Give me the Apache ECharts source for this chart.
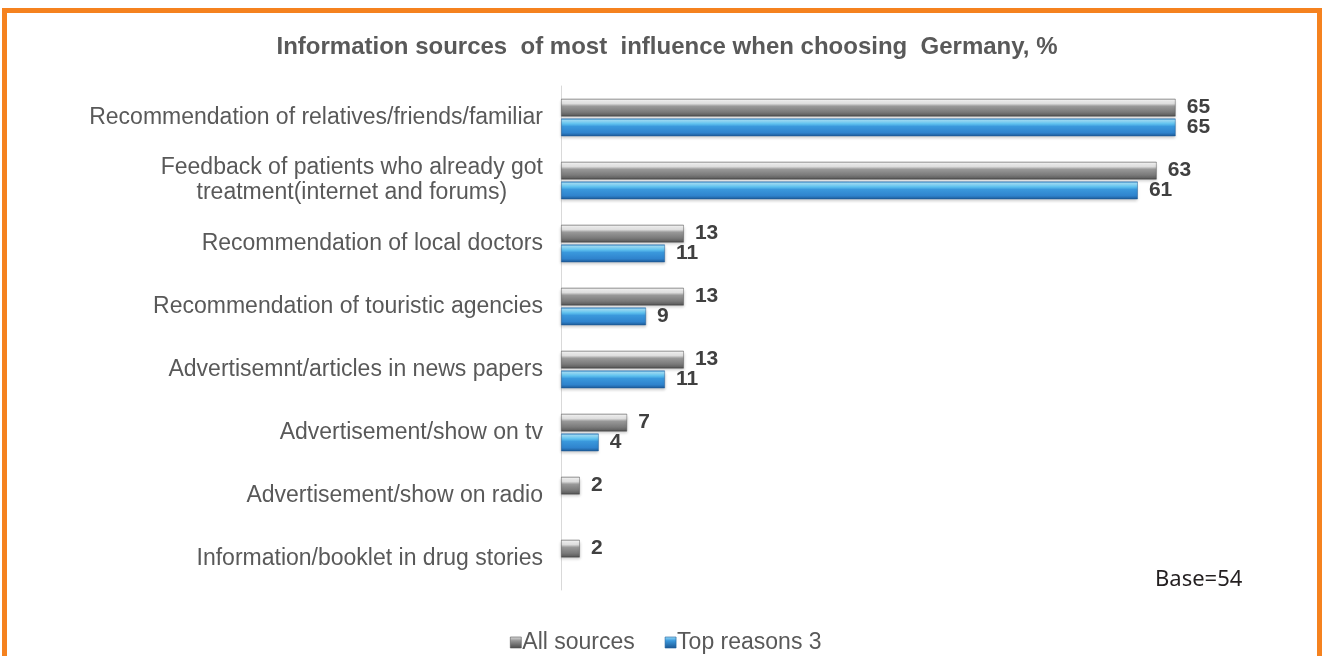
<!DOCTYPE html>
<html>
<head>
<meta charset="utf-8">
<script src="https://cdn.jsdelivr.net/npm/echarts@6/dist/echarts.min.js"></script>
<style>
  html, body { margin: 0; padding: 0; background: #ffffff; }
  #frame {
    position: absolute; left: 2px; top: 8px; width: 1310px; height: 700px;
    border: 5px solid #F5821F; background: #ffffff;
  }
  #chart { position: absolute; left: 0; top: 0; width: 1326px; height: 656px; }
</style>
</head>
<body>
<div id="frame"></div>
<div id="chart"></div>
<script>
// Survey answers (percent of respondents)
const categories = [
  'Recommendation of relatives/friends/familiar',
  'Feedback of patients who already got\ntreatment(internet and forums)',
  'Recommendation of local doctors',
  'Recommendation of touristic agencies',
  'Advertisemnt/articles in news papers',
  'Advertisement/show on tv',
  'Advertisement/show on radio',
  'Information/booklet in drug stories'
];
const allSources = [65, 63, 13, 13, 13, 7, 2, 2];
const topReasons = [65, 61, 11, 9, 11, 4, 0, 0];
const seriesNames = ['All sources', 'Top reasons 3'];
const titleText = 'Information sources  of most  influence when choosing  Germany, %';
const baseNote = 'Base=54';

// Bevelled fills: highlight near the top, darker edge at the bottom
const grayFill = new echarts.graphic.LinearGradient(0, 0, 0, 1, [
  { offset: 0, color: '#a8a8a8' },
  { offset: 0.1, color: '#f2f2f2' },
  { offset: 0.28, color: '#dedede' },
  { offset: 0.42, color: '#999999' },
  { offset: 0.75, color: '#7a7a7a' },
  { offset: 0.9, color: '#636363' },
  { offset: 1, color: '#424242' }
]);
const blueFill = new echarts.graphic.LinearGradient(0, 0, 0, 1, [
  { offset: 0, color: '#3f8fcf' },
  { offset: 0.12, color: '#9ddff9' },
  { offset: 0.3, color: '#5fc2ef' },
  { offset: 0.45, color: '#3a98dc' },
  { offset: 0.8, color: '#2f83cd' },
  { offset: 1, color: '#1b5692' }
]);
const legendGray = new echarts.graphic.LinearGradient(0, 0, 0, 1, [
  { offset: 0, color: '#e0e0e0' },
  { offset: 0.35, color: '#959595' },
  { offset: 1, color: '#4a4a4a' }
]);
const legendBlue = new echarts.graphic.LinearGradient(0, 0, 0, 1, [
  { offset: 0, color: '#9ddff9' },
  { offset: 0.35, color: '#3a98dc' },
  { offset: 1, color: '#1b5692' }
]);

const labelStyle = {
  show: true,
  position: 'right',
  distance: 11,
  color: '#404040',
  fontFamily: 'Liberation Sans, Arial, sans-serif',
  fontWeight: 'bold',
  fontSize: 21,
  formatter: p => (p.value > 0 ? String(p.value) : '')
};

const barShadow = {
  shadowColor: 'rgba(0,0,0,0.22)',
  shadowBlur: 3,
  shadowOffsetY: 2
};

// Zero-length bars get no outline or shadow so nothing shows at the axis
const barData = values => values.map(v =>
  v === 0 ? { value: v, itemStyle: { borderWidth: 0, shadowBlur: 0, shadowOffsetY: 0 } } : v
);

const chart = echarts.init(document.getElementById('chart'), null, { renderer: 'canvas' });
chart.setOption({
  animation: false,
  backgroundColor: 'transparent',
  title: {
    text: titleText,
    left: 662,
    textAlign: 'center',
    top: 30,
    textStyle: {
      color: '#595959',
      fontFamily: 'Liberation Sans, Arial, sans-serif',
      fontWeight: 'bold',
      fontSize: 24
    }
  },
  legend: {
    data: [
      { name: seriesNames[0], itemStyle: { color: legendGray, borderColor: '#555', borderWidth: 0.6 } },
      { name: seriesNames[1], itemStyle: { color: legendBlue, borderColor: '#1f5f9c', borderWidth: 0.6 } }
    ],
    left: 505,
    top: 626,
    itemWidth: 11,
    itemHeight: 11,
    itemGap: 30,
    icon: 'rect',
    textStyle: {
      color: '#595959',
      fontFamily: 'Liberation Sans, Arial, sans-serif',
      fontSize: 23,
      padding: [0, 0, 0, -4]
    }
  },
  grid: { left: 561, top: 86, width: 662, height: 504, containLabel: false },
  xAxis: {
    type: 'value',
    min: 0,
    max: 70,
    show: false,
    splitLine: { show: false }
  },
  yAxis: {
    type: 'category',
    data: categories,
    inverse: true,
    axisTick: { show: false },
    axisLine: { show: true, lineStyle: { color: '#d9d9d9', width: 1 } },
    axisLabel: {
      margin: 18,
      formatter: v => v.split('\n').map(s => '{c|' + s + '}').join('\n'),
      rich: {
        c: {
          align: 'center',
          color: '#595959',
          fontFamily: 'Liberation Sans, Arial, sans-serif',
          fontSize: 23,
          lineHeight: 25
        }
      }
    }
  },
  series: [
    {
      name: seriesNames[0],
      type: 'bar',
      data: barData(allSources),
      barWidth: 18,
      barGap: '10%',
      itemStyle: Object.assign({ color: grayFill, borderColor: 'rgba(80,80,80,0.55)', borderWidth: 0.8 }, barShadow),
      label: labelStyle
    },
    {
      name: seriesNames[1],
      type: 'bar',
      data: barData(topReasons),
      barWidth: 18,
      itemStyle: Object.assign({ color: blueFill, borderColor: 'rgba(30,90,150,0.6)', borderWidth: 0.8 }, barShadow),
      label: labelStyle
    }
  ],
  graphic: [
    {
      type: 'text',
      left: 1155,
      top: 569,
      style: {
        text: baseNote,
        fill: '#231f20',
        font: '22px "Noto Sans", "Open Sans", sans-serif'
      }
    }
  ]
});
</script>
</body>
</html>
